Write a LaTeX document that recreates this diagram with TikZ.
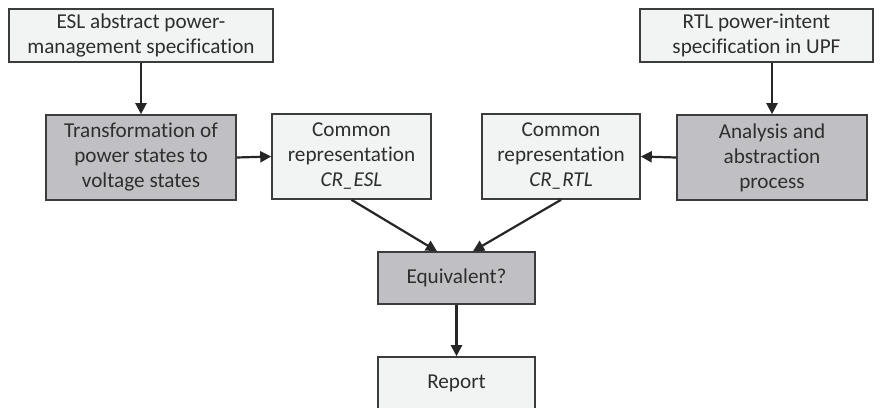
\documentclass[tikz,border=0pt]{standalone}
\usepackage{fontspec}
\setmainfont[Ligatures=NoCommon]{Carlito}
\usetikzlibrary{arrows.meta,calc}
\definecolor{lightbox}{HTML}{F2F3F3}
\definecolor{darkbox}{HTML}{C0C0C4}
\definecolor{edge}{HTML}{3C3C3C}
\definecolor{ink}{HTML}{2E2E2E}
\begin{document}
\begin{tikzpicture}[x=1pt,y=-1pt,
  box/.style={draw=edge,line width=1.6pt,align=center,inner sep=0pt,
    text=ink,font=\fontsize{21.2}{25}\selectfont},
  light/.style={box,fill=lightbox},
  dark/.style={box,fill=darkbox},
  flow/.style={draw=black!85,line width=2.2pt,-{Triangle[length=11pt,width=11pt]}}]
\useasboundingbox (0,0) rectangle (893,407);
\node[light,minimum width=264pt,minimum height=53pt] (esl) at (141,35.5)
  {ESL abstract power-\\management specification};
\node[light,minimum width=233pt,minimum height=53pt] (rtl) at (756.5,35.5)
  {RTL power-intent\\specification in UPF};
\node[dark,minimum width=190pt,minimum height=85pt] (tr) at (141,157.5)
  {Transformation of\\power states to\\voltage states};
\node[light,minimum width=159pt,minimum height=85pt] (cresl) at (351.5,156.5)
  {Common\\representation\\\textit{CR\_ESL}};
\node[light,minimum width=158pt,minimum height=85pt] (crrtl) at (561,156.5)
  {Common\\representation\\\textit{CR\_RTL}};
\node[dark,minimum width=190pt,minimum height=85pt] (an) at (772,157.5)
  {Analysis and\\abstraction\\process};
\node[dark,minimum width=157pt,minimum height=52pt] (eq) at (456.5,278)
  {Equivalent?};
\node[light,minimum width=157pt,minimum height=52pt] (rep) at (456.5,383)
  {Report};
\draw[flow] (esl.south) -- (tr.north);
\draw[flow] (an.north |- rtl.south) -- (an.north);
\draw[flow] (tr.east) -- (cresl.west);
\draw[flow] (an.west) -- (crrtl.west -| crrtl.east);
\draw[flow] (cresl.south) -- ($(eq.north)+(-19.5,0)$);
\draw[flow] (crrtl.south) -- ($(eq.north)+(16.5,0)$);
\draw[flow] (eq.south) -- (rep.north);
\end{tikzpicture}
\end{document}
